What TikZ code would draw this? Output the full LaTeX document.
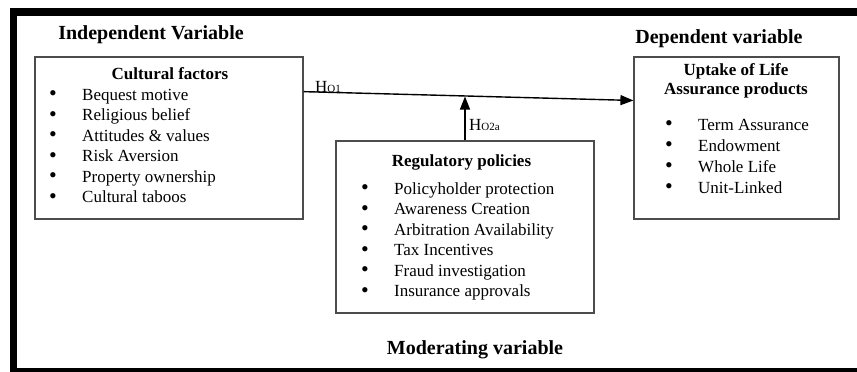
\documentclass[tikz,border=0pt]{standalone}
\usepackage{fontspec}
\setmainfont{Liberation Serif}
\usetikzlibrary{arrows.meta}

\tikzset{
    box/.style={draw=black!70, line width=1.2pt, inner sep=0pt},
    heading/.style={font=\fontsize{20}{24}\selectfont\bfseries, inner sep=0pt, anchor=base},
    title/.style={font=\fontsize{17}{20}\selectfont\bfseries, inner sep=0pt, anchor=base},
    item/.style={font=\fontsize{17}{20}\selectfont, inner sep=0pt, anchor=base west},
    hyp/.style={font=\fontsize{17}{20}\selectfont, inner sep=0pt, anchor=base west},
    link/.style={line width=1.4pt, -{Triangle[length=13pt,width=10pt]}}
}
\newcommand{\bul}{\makebox[33pt][l]{\raisebox{-0.5pt}{\fontsize{22}{22}\selectfont\textbullet}}}
\newcommand{\hsub}[1]{H{\fontsize{11}{12}\selectfont #1}}

\begin{document}
\begin{tikzpicture}[x=1pt, y=-1pt]

        % (x, y) in pixels of the reference, y going down
        \useasboundingbox (0, 0) rectangle (857, 372);

        % outer frame, open on the right
        \draw[line width=7.5pt] (875, 12) -- (13.5, 12) -- (13.5, 380);
        \draw[line width=7.5pt] (10, 372) -- (875, 372);

        % headings
        \node[heading] (indep) at (151, 39) {Independent Variable};
        \node[heading] (dep) at (719, 43) {Dependent variable};
        \node[heading] (moder) at (475, 354) {Moderating variable};

        % cultural factors
        \node[box, minimum width=268pt, minimum height=162pt] (cult) at (169, 138) {};
        \node[title] (culttitle) at (170, 79) {Cultural factors};
        \node[item] (c1) at (49, 100) {\bul Bequest motive};
        \node[item] (c2) at (49, 120.5) {\bul Religious belief};
        \node[item] (c3) at (49, 141) {\bul Attitudes \& values};
        \node[item] (c4) at (49, 161.5) {\bul Risk Aversion};
        \node[item] (c5) at (49, 182) {\bul Property ownership};
        \node[item] (c6) at (49, 202.5) {\bul Cultural taboos};

        % regulatory policies
        \node[box, minimum width=258pt, minimum height=172pt] (reg) at (465, 227) {};
        \node[title] (regtitle) at (461.5, 166) {Regulatory policies};
        \node[item] (r1) at (361, 194) {\bul Policyholder protection};
        \node[item] (r2) at (361, 214.5) {\bul Awareness Creation};
        \node[item] (r3) at (361, 235) {\bul Arbitration Availability};
        \node[item] (r4) at (361, 255.5) {\bul Tax Incentives};
        \node[item] (r5) at (361, 276) {\bul Fraud investigation};
        \node[item] (r6) at (361, 296.5) {\bul Insurance approvals};

        % uptake of life assurance
        \node[box, minimum width=205pt, minimum height=162pt] (upt) at (736.5, 138) {};
        \node[title] (upttitle1) at (736, 75) {Uptake of Life};
        \node[title] (upttitle2) at (736, 94) {Assurance products};
        \node[item] (u1) at (665, 130) {\bul Term Assurance};
        \node[item] (u2) at (665, 151) {\bul Endowment};
        \node[item] (u3) at (665, 172) {\bul Whole Life};
        \node[item] (u4) at (665, 193) {\bul Unit-Linked};

        % hypotheses
        \coordinate (meet) at (465, 96.5);
        \draw[link] (cult.19) -- (upt.160);
        \draw[link] (reg.north) -- (meet);
        \node[hyp] (h1) at (315, 92) {\hsub{O1}};
        \node[hyp] (h2) at (469, 130) {\hsub{O2a}};

    \end{tikzpicture}
\end{document}
